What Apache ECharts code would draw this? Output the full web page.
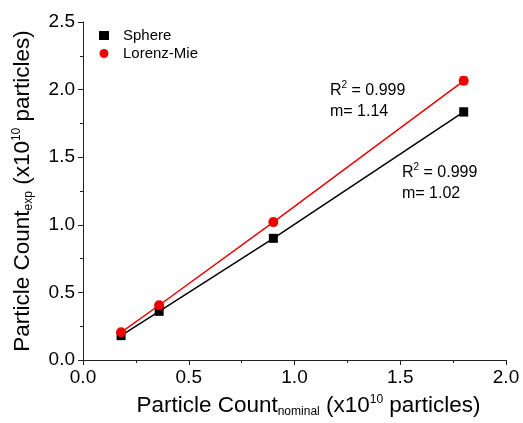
<!DOCTYPE html>
<html>
<head>
<meta charset="utf-8">
<script src="https://cdn.jsdelivr.net/npm/echarts@6/dist/echarts.min.js"></script>
<style>
  html, body { margin: 0; padding: 0; background: #fff; }
  #chart { width: 523px; height: 423px; }
</style>
</head>
<body>
<div id="chart"></div>
<script>
var nominal = [0.18, 0.36, 0.9, 1.8]
var sphere = [0.18, 0.36, 0.90, 1.835]
var sphereErr = [0.01, 0.01, 0.012, 0.03]
var lorenzMie = [0.205, 0.405, 1.02, 2.065]
var lorenzErr = [0.01, 0.01, 0.012, 0.03]
var xTicks = [0, 0.5, 1.0, 1.5, 2.0]
var yTicks = [0, 0.5, 1.0, 1.5, 2.0, 2.5]

var font = 'Liberation Sans, Arial, sans-serif'

function pairs (xs, ys) {
    return xs.map(function (x, i) { return [x, ys[i]] })
}
function errData (xs, ys, es) {
    return xs.map(function (x, i) { return [x, ys[i] - es[i], ys[i] + es[i]] })
}
function errRender (color) {
    return function (params, api) {
        var lo = api.coord([api.value(0), api.value(1)])
        var hi = api.coord([api.value(0), api.value(2)])
        var w = 4
        var style = { stroke: color, lineWidth: 1, opacity: 0.6 }
        return {
            type: 'group',
            children: [
                { type: 'line', shape: { x1: lo[0], y1: lo[1], x2: hi[0], y2: hi[1] }, style: style },
                { type: 'line', shape: { x1: lo[0] - w, y1: lo[1], x2: lo[0] + w, y2: lo[1] }, style: style },
                { type: 'line', shape: { x1: hi[0] - w, y1: hi[1], x2: hi[0] + w, y2: hi[1] }, style: style }
            ]
        }
    }
}

var titleRich = {
    a: { fontSize: 22.5, fontFamily: font, color: '#000' },
    sub: { fontSize: 12, fontFamily: font, color: '#000', verticalAlign: 'bottom', padding: [12, 0, 0, 0] },
    sup: { fontSize: 12, fontFamily: font, color: '#000', verticalAlign: 'top', padding: [0, 0, 10, 0] }
}

var axisCommon = {
    type: 'value',
    interval: 0.5,
    splitLine: { show: false },
    axisLine: { show: true, onZero: false, lineStyle: { color: '#222', width: 1 } },
    axisTick: { show: true, inside: false, length: 5, lineStyle: { color: '#222' } },
    minorTick: { show: true, splitNumber: 2, length: 3, lineStyle: { color: '#222' } },
    axisLabel: {
        color: '#000', fontSize: 19, fontFamily: font,
        formatter: function (v) { return v.toFixed(1) }
    },
    nameLocation: 'middle'
}

var annRich = {
    a: { fontSize: 16, fontFamily: font, fill: '#000', lineHeight: 21 },
    sup: { fontSize: 10, fontFamily: font, fill: '#000', verticalAlign: 'top', lineHeight: 21, padding: [0, 0, 7, 0] }
}

var chart = echarts.init(document.getElementById('chart'))
chart.setOption({
    animation: false,
    grid: { left: 83, right: 17, top: 22, bottom: 61 },
    xAxis: Object.assign({}, axisCommon, {
        min: xTicks[0], max: xTicks[xTicks.length - 1],
        name: '{a|Particle Count}{sub|nominal}{a| (x10}{sup|10}{a| particles)}',
        nameGap: 34,
        nameTextStyle: { color: '#000', fontSize: 22, fontFamily: font, rich: titleRich, padding: [0, 0, 0, 28] }
    }),
    yAxis: Object.assign({}, axisCommon, {
        min: yTicks[0], max: yTicks[yTicks.length - 1],
        name: '{a|Particle Count}{sub|exp}{a| (x10}{sup|10}{a| particles)}',
        nameGap: 48,
        nameTextStyle: { color: '#000', fontSize: 22, fontFamily: font, rich: titleRich }
    }),
    legend: {
        left: 94, top: 23, orient: 'vertical', itemGap: 3,
        itemWidth: 10, itemHeight: 9,
        textStyle: { color: '#000', fontSize: 15, fontFamily: font, padding: [0, 0, 0, 9] },
        data: [
            { name: 'Sphere', icon: 'rect', itemStyle: { color: '#000' } },
            { name: 'Lorenz-Mie', icon: 'circle', itemStyle: { color: '#ee0000' } }
        ]
    },
    graphic: [
        {
            type: 'text', left: 330, top: 80,
            style: { text: '{a|R}{sup|2}{a| = 0.999}\n{a|m= 1.14}', rich: annRich }
        },
        {
            type: 'text', left: 402, top: 162,
            style: { text: '{a|R}{sup|2}{a| = 0.999}\n{a|m= 1.02}', rich: annRich }
        }
    ],
    series: [
        {
            name: 'Sphere', type: 'line',
            data: pairs(nominal, sphere),
            symbol: 'rect', symbolSize: 9,
            itemStyle: { color: '#000' },
            lineStyle: { color: '#000', width: 1.5 },
            z: 3
        },
        {
            name: 'Lorenz-Mie', type: 'line',
            data: pairs(nominal, lorenzMie),
            symbol: 'circle', symbolSize: 10,
            itemStyle: { color: '#ee0000' },
            lineStyle: { color: '#ee0000', width: 1.5 },
            z: 3
        },
        {
            type: 'custom', renderItem: errRender('#000'),
            data: errData(nominal, sphere, sphereErr), z: 2, silent: true
        },
        {
            type: 'custom', renderItem: errRender('#ee0000'),
            data: errData(nominal, lorenzMie, lorenzErr), z: 2, silent: true
        }
    ]
})
</script>
</body>
</html>
